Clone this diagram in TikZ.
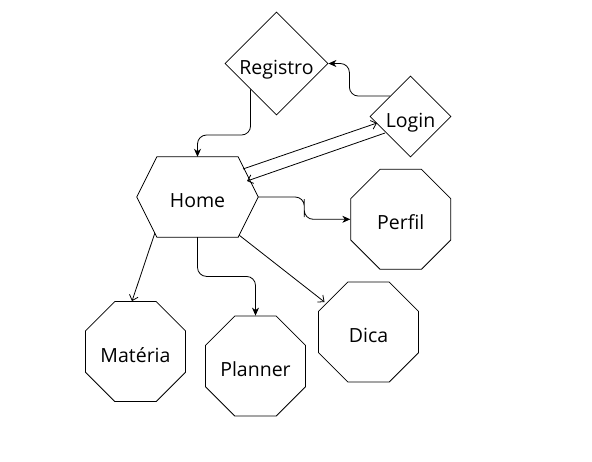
\documentclass[tikz,border=0pt]{standalone}
\usepackage{fontspec}
\setmainfont{Open Sans}
\usetikzlibrary{shapes.geometric,arrows.meta,calc}
\begin{document}
\begin{tikzpicture}[x=1pt,y=-1pt,
  every node/.style={font=\fontsize{19.5}{23}\selectfont, text height=21pt, text depth=0pt},
  edge/.style={line width=0.8pt, draw=black},
  fil/.style={edge, rounded corners=9pt, -{Stealth[length=8pt,width=7pt,inset=2.5pt]}},
  opn/.style={edge, -{Straight Barb[length=5pt,width=9pt]}},
  dia/.style={diamond, draw, line width=0.8pt, inner sep=0pt, aspect=1},
  oct/.style={regular polygon, regular polygon sides=8, draw, line width=0.8pt, inner sep=0pt, minimum size=108.2pt},
  hexbox/.style={rectangle, inner sep=0pt, minimum width=121pt, minimum height=80pt}]
\fill[white] (0,0) rectangle (592,461);
\useasboundingbox (0,0) rectangle (592,461);

\node[dia, minimum width=103pt, minimum height=103pt] (reg) at (276.5,63.5) {Registro};
\node[dia, minimum width=81pt, minimum height=81pt] (login) at (410.5,116.5) {Login};
\node[hexbox] (home) at (197.5,197) {Home};
\draw[line width=0.8pt] ($(home.north west)+(20,0)$) -- ($(home.north east)+(-20,0)$) -- (home.east)
  -- ($(home.south east)+(-20,0)$) coordinate (hbr) -- ($(home.south west)+(20,0)$) coordinate (hbl)
  -- (home.west) -- cycle;

\node[oct] (perfil) at (400.7,219.3) {Perfil};
\node[oct] (materia) at (135.5,351.5) {Matéria};
\node[oct] (planner) at (255.5,366) {Planner};
\node[oct] (dica) at (368.5,332) {Dica};

% Registro -> Home
\draw[fil] (reg.south west) -- ($(reg.south west |- 0,135)$) -- ($(home.north |- 0,135)$) -- (home.north);
% Login -> Registro
\draw[fil] (login.north west) -| ($(reg.east)+(21,0)$) -- (reg.east);
% Home <-> Login
\draw[opn] ($(home.center)+(45.5,-28)$) -- ($(login.center)+(-33.5,6.5)$);
\draw[opn] ($(login.center)+(-25.5,16.5)$) -- ($(home.center)+(49.5,-16)$);
% Home -> Perfil
\draw[fil] (home.east) -| ($(home.east)!0.5!(perfil.west)$) |- (perfil.west);
% Home -> Planner
\draw[fil] (home.south) |- ($(home.south)!0.5!(planner.north)$) -| (planner.north);
% Home -> Materia
\draw[opn] ($(home.west)!0.9!(hbl)$) -- ($(materia.north)+(-3.5,0)$);
% Home -> Dica
\draw[opn] ($(home.east)!0.95!(hbr)$) -- ($(dica.center)+(-44,-30)$);
\end{tikzpicture}
\end{document}
